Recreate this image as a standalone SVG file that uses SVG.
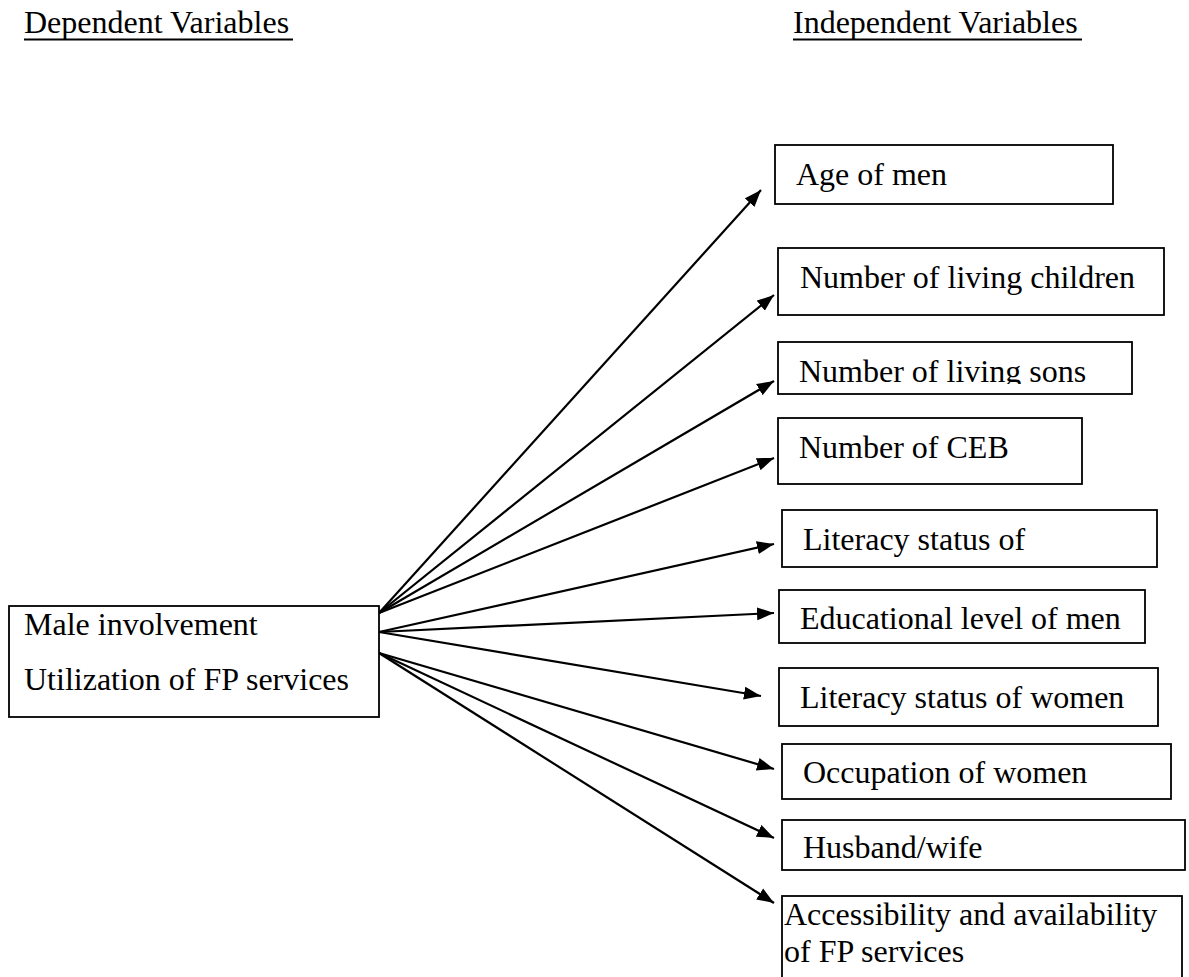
<svg xmlns="http://www.w3.org/2000/svg" width="1189" height="977" viewBox="0 0 1189 977">
<style>
text{font-family:"Liberation Serif","Times New Roman",serif;font-size:32px;fill:#000}
.box{fill:#fff;stroke:#000;stroke-width:1.8}
.conn{stroke:#000;stroke-width:2.2;fill:none}
.ul{stroke:#000;stroke-width:2}
</style>
<defs>
<marker id="arr" markerUnits="userSpaceOnUse" markerWidth="18" markerHeight="14" refX="17" refY="7" orient="auto">
<path d="M0,0.5 L17,7 L0,13.5 z" fill="#000"/>
</marker>
<clipPath id="sonsclip"><rect x="778" y="342" width="355" height="42"/></clipPath>
</defs>
<rect width="1189" height="977" fill="#fff"/>
<g id="headers">
<text x="24" y="33">Dependent Variables</text>
<line class="ul" x1="24" y1="39.5" x2="293" y2="39.5"/>
<text x="793" y="33">Independent Variables</text>
<line class="ul" x1="793" y1="39.5" x2="1082" y2="39.5"/>
</g>
<g id="connectors">
<line class="conn" x1="379" y1="613" x2="761" y2="190" marker-end="url(#arr)"/>
<line class="conn" x1="379" y1="613" x2="774" y2="295" marker-end="url(#arr)"/>
<line class="conn" x1="379" y1="613" x2="774" y2="381" marker-end="url(#arr)"/>
<line class="conn" x1="379" y1="613" x2="774" y2="458" marker-end="url(#arr)"/>
<line class="conn" x1="379" y1="632" x2="774" y2="544" marker-end="url(#arr)"/>
<line class="conn" x1="379" y1="632" x2="774" y2="613" marker-end="url(#arr)"/>
<line class="conn" x1="379" y1="632" x2="761" y2="696" marker-end="url(#arr)"/>
<line class="conn" x1="379" y1="653" x2="774" y2="769" marker-end="url(#arr)"/>
<line class="conn" x1="379" y1="653" x2="774" y2="838" marker-end="url(#arr)"/>
<line class="conn" x1="379" y1="653" x2="774" y2="903" marker-end="url(#arr)"/>
</g>
<g id="dependent">
<rect class="box" x="9" y="606" width="370" height="111"/>
<text x="24" y="635">Male involvement</text>
<text x="24" y="690">Utilization of FP services</text>
</g>
<g id="age">
<rect class="box" x="775" y="145" width="338" height="59"/>
<text x="796" y="185">Age of men</text>
</g>
<g id="children">
<rect class="box" x="778" y="248" width="386" height="67"/>
<text x="800" y="288">Number of living children</text>
</g>
<g id="sons">
<rect class="box" x="778" y="342" width="354" height="52"/>
<text x="799" y="382" clip-path="url(#sonsclip)">Number of living sons</text>
</g>
<g id="ceb">
<rect class="box" x="778" y="418" width="304" height="66"/>
<text x="799" y="458">Number of CEB</text>
</g>
<g id="literacy">
<rect class="box" x="782" y="510" width="375" height="57"/>
<text x="803" y="550">Literacy status of</text>
</g>
<g id="education">
<rect class="box" x="779" y="590" width="366" height="53"/>
<text x="800" y="629">Educational level of men</text>
</g>
<g id="literacywomen">
<rect class="box" x="779" y="668" width="379" height="58"/>
<text x="800" y="708">Literacy status of women</text>
</g>
<g id="occupation">
<rect class="box" x="782" y="744" width="389" height="55"/>
<text x="803" y="783">Occupation of women</text>
</g>
<g id="husbandwife">
<rect class="box" x="782" y="820" width="403" height="50"/>
<text x="803" y="858">Husband/wife</text>
</g>
<g id="accessibility">
<rect class="box" x="782" y="896" width="400" height="100"/>
<text x="784" y="925">Accessibility and availability</text>
<text x="784" y="962">of FP services</text>
</g>
</svg>
